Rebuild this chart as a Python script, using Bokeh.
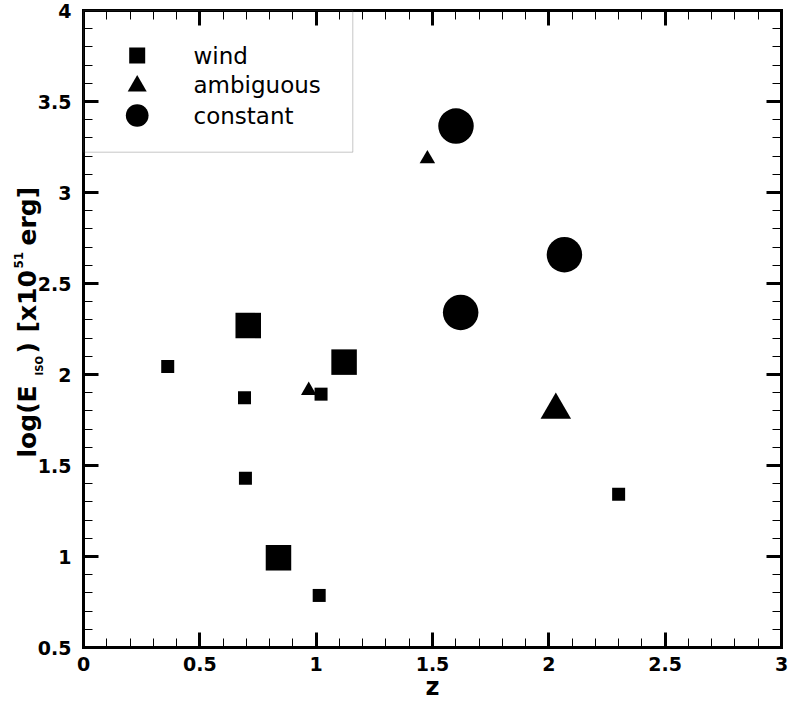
import numpy as np
from bokeh.plotting import figure
from bokeh.models import (FixedTicker, LinearAxis, Range1d, Label, BoxAnnotation,
                          CustomLabelingPolicy)
from bokeh.embed import file_html
from bokeh.resources import INLINE

# ---------------- data ----------------
x_ticks = [0, 0.5, 1, 1.5, 2, 2.5, 3]
x_tick_labels = ["0", "0.5", "1", "1.5", "2", "2.5", "3"]
y_ticks = [0.5, 1, 1.5, 2, 2.5, 3, 3.5, 4]
y_tick_labels = ["0.5", "1", "1.5", "2", "2.5", "3", "3.5", "4"]

series_names = ["wind", "ambiguous", "constant"]

wind_z = [0.362, 0.692, 0.696, 0.708, 0.838, 1.013, 1.021, 1.120, 2.300]
wind_logE = [2.044, 1.872, 1.430, 2.269, 0.993, 0.786, 1.892, 2.068, 1.342]
wind_large = [False, False, False, True, True, False, False, True, False]

amb_z = [0.968, 1.478, 2.030]
amb_logE = [1.912, 3.185, 1.805]
amb_large = [False, False, True]

const_z = [1.601, 1.621, 2.067]
const_logE = [3.365, 2.341, 2.658]

# ---------------- layout constants (pixels) ----------------
W, H = 789, 702
FRAME_L, FRAME_T, FRAME_W, FRAME_H = 83, 10, 698, 637
X0, X1 = 0.0, 3.0
Y0, Y1 = 0.5, 4.0
PPX = FRAME_W / (X1 - X0)
PPY = FRAME_H / (Y1 - Y0)
XS, XE = X0 - FRAME_L / PPX, X1 + (W - FRAME_L - FRAME_W) / PPX
YS, YE = Y0 - (H - FRAME_T - FRAME_H) / PPY, Y1 + FRAME_T / PPY


def px_x(px):
    return XS + px / PPX


def px_y(py):
    return YE - py / PPY


# The plotting frame covers the whole canvas; the axes are pinned at the data box edges.
p = figure(width=W, height=H, x_range=Range1d(XS, XE), y_range=Range1d(YS, YE),
           output_backend="svg", toolbar_location=None, title=None, min_border=0)
p.xgrid.grid_line_color = None
p.ygrid.grid_line_color = None
p.outline_line_color = None
p.background_fill_color = "white"
p.border_fill_color = "white"

hide_all = CustomLabelingPolicy(code="for (const i of indices) indices.unset(i)")


def minor_of(ticks):
    vals = np.round(np.arange(ticks[0], ticks[-1] + 1e-9, 0.1), 3)
    return [float(v) for v in vals if all(abs(v - t) > 1e-6 for t in ticks)]


def style_axis(ax, ticks, labels, show_labels, standoff, loc, bounds):
    ax.fixed_location = loc
    ax.bounds = bounds
    ax.ticker = FixedTicker(ticks=ticks, minor_ticks=minor_of(ticks))
    ax.major_label_overrides = {t: l for t, l in zip(ticks, labels)}
    ax.axis_line_width = 3
    ax.axis_line_color = "black"
    ax.axis_line_cap = "square"
    ax.major_tick_in = 15
    ax.major_tick_out = 0
    ax.major_tick_line_width = 3
    ax.major_tick_line_color = "black"
    ax.minor_tick_in = 9
    ax.minor_tick_out = 0
    ax.minor_tick_line_width = 1
    ax.minor_tick_line_color = "black"
    if show_labels:
        ax.major_label_text_font = "DejaVu Sans"
        ax.major_label_text_font_style = "bold"
        ax.major_label_text_font_size = "19px"
        ax.major_label_text_color = "black"
        ax.major_label_standoff = standoff
    else:
        ax.major_label_policy = hide_all
        ax.major_label_text_font_size = "1px"
        ax.major_label_standoff = 0


style_axis(p.xaxis[0], x_ticks, x_tick_labels, True, 9, Y0, (X0, X1))
style_axis(p.yaxis[0], y_ticks, y_tick_labels, True, 12, X0, (Y0, Y1))
p.yaxis[0].axis_label = None
p.xaxis[0].axis_label = "z"
p.xaxis[0].axis_label_text_font = "DejaVu Sans"
p.xaxis[0].axis_label_text_font_style = "bold"
p.xaxis[0].axis_label_text_font_size = "24px"
p.xaxis[0].axis_label_text_color = "black"
p.xaxis[0].axis_label_standoff = -1

top_ax = LinearAxis()
style_axis(top_ax, x_ticks, x_tick_labels, False, 0, Y1, (X0, X1))
p.add_layout(top_ax, "above")
right_ax = LinearAxis()
style_axis(right_ax, y_ticks, y_tick_labels, False, 0, X1, (Y0, Y1))
p.add_layout(right_ax, "right")

# ---------------- markers ----------------
p.scatter(wind_z, wind_logE, marker="square",
          size=[25.5 if b else 13 for b in wind_large],
          fill_color="black", line_color="black", line_width=0)
p.scatter(amb_z, amb_logE, marker="triangle",
          size=[30.5 if b else 15.5 for b in amb_large],
          fill_color="black", line_color="black", line_width=0)
p.scatter(const_z, const_logE, marker="circle", size=35.5,
          fill_color="black", line_color="black", line_width=0)

# ---------------- legend (drawn by hand to match marker sizes) ----------------
p.add_layout(BoxAnnotation(left=X0, right=px_x(352.3), top=Y1, bottom=px_y(151.7),
                           fill_alpha=0, line_color="#444444", line_width=1))
leg_markers = ["square", "triangle", "circle"]
leg_sizes = [16, 19, 22.7]
leg_marker_py = [55, 85.5, 115]
leg_text_py = [55, 84, 115]
for name, mk, sz, mpy, tpy in zip(series_names, leg_markers, leg_sizes, leg_marker_py, leg_text_py):
    p.scatter([px_x(136.7)], [px_y(mpy)], marker=mk, size=sz,
              fill_color="black", line_color="black", line_width=0)
    p.add_layout(Label(x=193, y=H - tpy, x_units="screen", y_units="screen", text=name,
                       text_font="DejaVu Sans", text_font_size="23px", text_color="black",
                       text_align="left", text_baseline="middle"))

# ---------------- rotated y title ----------------
title_pieces = [("log(E", 27, 457, "25px"), ("ISO", 38.5, 375, "10px"), (")", 27, 353, "25px"),
                ("[x10", 27, 332, "25px"), ("51", 18, 268, "12px"), ("erg]", 27, 245, "25px")]
for txt, bx, by, fs in title_pieces:
    p.add_layout(Label(x=bx, y=H - by, x_units="screen", y_units="screen", text=txt,
                       angle=np.pi / 2, text_font="DejaVu Sans", text_font_style="bold",
                       text_font_size=fs, text_align="left",
                       text_baseline="alphabetic", text_color="black"))

open("out.html", "w").write(file_html(p, INLINE))
